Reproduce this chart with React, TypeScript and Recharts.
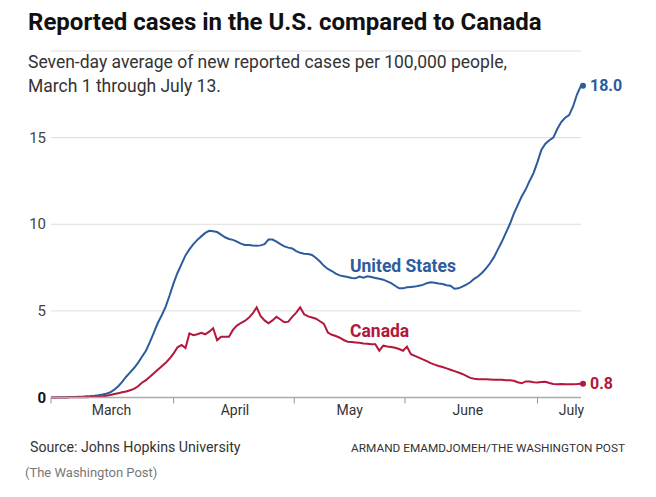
import { CartesianGrid, Line, LineChart, XAxis, YAxis } from "recharts";

// seven-day average of new cases per 100k, one value per day, Mar 1 .. Jul 13
const usCases = [
  0.0, 0.0, 0.01, 0.01, 0.02, 0.03, 0.03, 0.04, 0.05, 0.07,
  0.08, 0.1, 0.13, 0.17, 0.22, 0.3, 0.45, 0.65, 0.9, 1.2,
  1.45, 1.7, 2.0, 2.35, 2.7, 3.2, 3.75, 4.3, 4.75, 5.25,
  5.9, 6.6, 7.2, 7.7, 8.2, 8.55, 8.85, 9.1, 9.3, 9.5,
  9.62, 9.6, 9.55, 9.4, 9.25, 9.15, 9.1, 9.0, 8.88, 8.8,
  8.8, 8.77, 8.76, 8.78, 8.85, 9.12, 9.12, 9.0, 8.85, 8.72,
  8.65, 8.6, 8.45, 8.35, 8.3, 8.28, 8.23, 8.05, 7.85, 7.6,
  7.42, 7.3, 7.15, 7.05, 7.0, 6.95, 6.9, 6.88, 6.98, 6.92,
  7.0, 6.95, 6.9, 6.85, 6.8, 6.7, 6.6, 6.45, 6.3, 6.3,
  6.36, 6.38, 6.4, 6.45, 6.5, 6.6, 6.65, 6.62, 6.58, 6.55,
  6.48, 6.45, 6.28, 6.3, 6.4, 6.52, 6.65, 6.85, 7.0, 7.2,
  7.45, 7.75, 8.1, 8.55, 9.0, 9.5, 10.0, 10.6, 11.1, 11.6,
  12.0, 12.5, 12.95, 13.6, 14.3, 14.65, 14.85, 15.0, 15.5, 15.9,
  16.15, 16.3, 16.8, 17.5, 18.0,
];

const canadaCases = [
  0.0, 0.0, 0.0, 0.0, 0.0, 0.01, 0.01, 0.01, 0.02, 0.02,
  0.03, 0.04, 0.05, 0.07, 0.1, 0.14, 0.2, 0.25, 0.3, 0.35,
  0.42, 0.5, 0.65, 0.85, 1.0, 1.2, 1.4, 1.6, 1.8, 2.0,
  2.25, 2.55, 2.9, 3.03, 2.85, 3.7, 3.6, 3.65, 3.74, 3.65,
  3.8, 4.0, 3.3, 3.5, 3.5, 3.5, 3.9, 4.15, 4.3, 4.42,
  4.6, 4.85, 5.2, 4.7, 4.45, 4.28, 4.45, 4.66, 4.5, 4.34,
  4.38, 4.65, 4.9, 5.2, 4.8, 4.68, 4.62, 4.55, 4.4, 4.25,
  3.75, 3.62, 3.55, 3.45, 3.32, 3.22, 3.2, 3.18, 3.16, 3.12,
  3.1, 3.08, 3.07, 2.7, 2.99, 2.95, 2.92, 2.87, 2.8, 2.7,
  2.93, 2.5, 2.4, 2.3, 2.2, 2.1, 1.98, 1.9, 1.82, 1.76,
  1.68, 1.6, 1.52, 1.44, 1.36, 1.25, 1.13, 1.08, 1.06, 1.05,
  1.05, 1.04, 1.03, 1.02, 1.02, 1.0, 0.99, 0.97, 0.88, 0.82,
  0.93, 0.92, 0.88, 0.87, 0.9, 0.91, 0.84, 0.78, 0.77, 0.78,
  0.77, 0.76, 0.77, 0.78, 0.8,
];

const monthLabels = ["March", "April", "May", "June", "July"];
const monthLabelDays = [15.3, 46.5, 75.5, 105.4, 131.6];
const monthTickDays = [0, 31, 61.5, 89.5, 123];
const yTicks = [0, 5, 10, 15];

const BLUE = "#2c5c9c";
const RED = "#b3173b";

const data = usCases.map((us, day) => ({ day, us, canada: canadaCases[day] }));
const lastIndex = data.length - 1;

const MonthTick = (props: any) => {
  const { x, y, payload } = props;
  const i = monthLabelDays.indexOf(payload.value);
  if (i >= 0) {
    return (
      <text x={x} y={y + 9} textAnchor="middle" fill="#333" fontSize={14}>
        {monthLabels[i]}
      </text>
    );
  }
  return <line x1={x} x2={x} y1={y - 8} y2={y - 2} stroke="#999" />;
};

const ValueTick = (props: any) => {
  const { x, y, payload } = props;
  const zero = payload.value === 0;
  return (
    <text
      x={x + 3}
      y={y}
      dy={5}
      textAnchor="end"
      fill={zero ? "#111" : "#444"}
      fontWeight={zero ? 700 : 400}
      fontSize={15}
    >
      {payload.value}
    </text>
  );
};

const endLabel = (color: string) => (props: any) => {
  const { x, y, index, value } = props;
  if (index !== lastIndex) return null;
  return (
    <g>
      <circle cx={x + 2} cy={y} r={3} fill={color} />
      <text x={x + 9} y={y} dy={5.5} fill={color} fontWeight={700} fontSize={16}>
        {Number(value).toFixed(1)}
      </text>
    </g>
  );
};

export default function App() {
  return (
    <div
      style={{
        position: "absolute",
        left: 0,
        top: 0,
        width: 656,
        height: 497,
        background: "#fff",
        fontFamily: "Roboto, sans-serif",
        color: "#333",
      }}
    >
      <div
        style={{
          position: "absolute",
          left: 28,
          top: 7,
          fontSize: 24,
          lineHeight: "30px",
          fontWeight: 700,
          color: "#111",
          whiteSpace: "nowrap",
        }}
      >
        Reported cases in the U.S. compared to Canada
      </div>
      <div
        style={{
          position: "absolute",
          left: 28,
          top: 50,
          fontSize: 17.5,
          lineHeight: "24px",
          color: "#333",
          whiteSpace: "nowrap",
        }}
      >
        Seven-day average of new reported cases per 100,000 people,
        <br />
        March 1 through July 13.
      </div>

      <div style={{ position: "absolute", left: 0, top: 0 }}>
        <LineChart
          width={656}
          height={497}
          data={data}
          margin={{ top: 51, right: 75, left: 21, bottom: 69.5 }}
          style={{ fontFamily: "Roboto, sans-serif" }}
        >
          <CartesianGrid vertical={false} stroke="#ddd" />
          <XAxis
            dataKey="day"
            type="number"
            domain={[0, lastIndex]}
            ticks={[...monthTickDays, ...monthLabelDays]}
            interval={0}
            tick={<MonthTick />}
            tickLine={false}
            axisLine={{ stroke: "#aaa", strokeWidth: 1.5 }}
            height={30}
          />
          <YAxis
            domain={[0, 20]}
            ticks={yTicks}
            tick={<ValueTick />}
            tickLine={false}
            axisLine={false}
            width={30}
          />
          <Line
            dataKey="us"
            type="linear"
            stroke={BLUE}
            strokeWidth={2}
            dot={false}
            label={endLabel(BLUE)}
            isAnimationActive={false}
          />
          <Line
            dataKey="canada"
            type="linear"
            stroke={RED}
            strokeWidth={2}
            dot={false}
            label={endLabel(RED)}
            isAnimationActive={false}
          />
        </LineChart>
      </div>

      <div
        style={{
          position: "absolute",
          left: 350,
          top: 255,
          fontSize: 17.5,
          lineHeight: "22px",
          fontWeight: 700,
          color: BLUE,
        }}
      >
        United States
      </div>
      <div
        style={{
          position: "absolute",
          left: 350,
          top: 320,
          fontSize: 17.5,
          lineHeight: "22px",
          fontWeight: 700,
          color: RED,
        }}
      >
        Canada
      </div>

      <div
        style={{
          position: "absolute",
          left: 30,
          top: 438,
          fontSize: 14.2,
          lineHeight: "18px",
          color: "#333",
        }}
      >
        Source: Johns Hopkins University
      </div>
      <div
        style={{
          position: "absolute",
          right: 31,
          top: 439,
          fontSize: 11.8,
          lineHeight: "18px",
          color: "#333",
          whiteSpace: "nowrap",
        }}
      >
        ARMAND EMAMDJOMEH/THE WASHINGTON POST
      </div>
      <div
        style={{
          position: "absolute",
          left: 25,
          top: 464,
          fontSize: 13,
          lineHeight: "18px",
          color: "#777",
        }}
      >
        (The Washington Post)
      </div>
    </div>
  );
}
